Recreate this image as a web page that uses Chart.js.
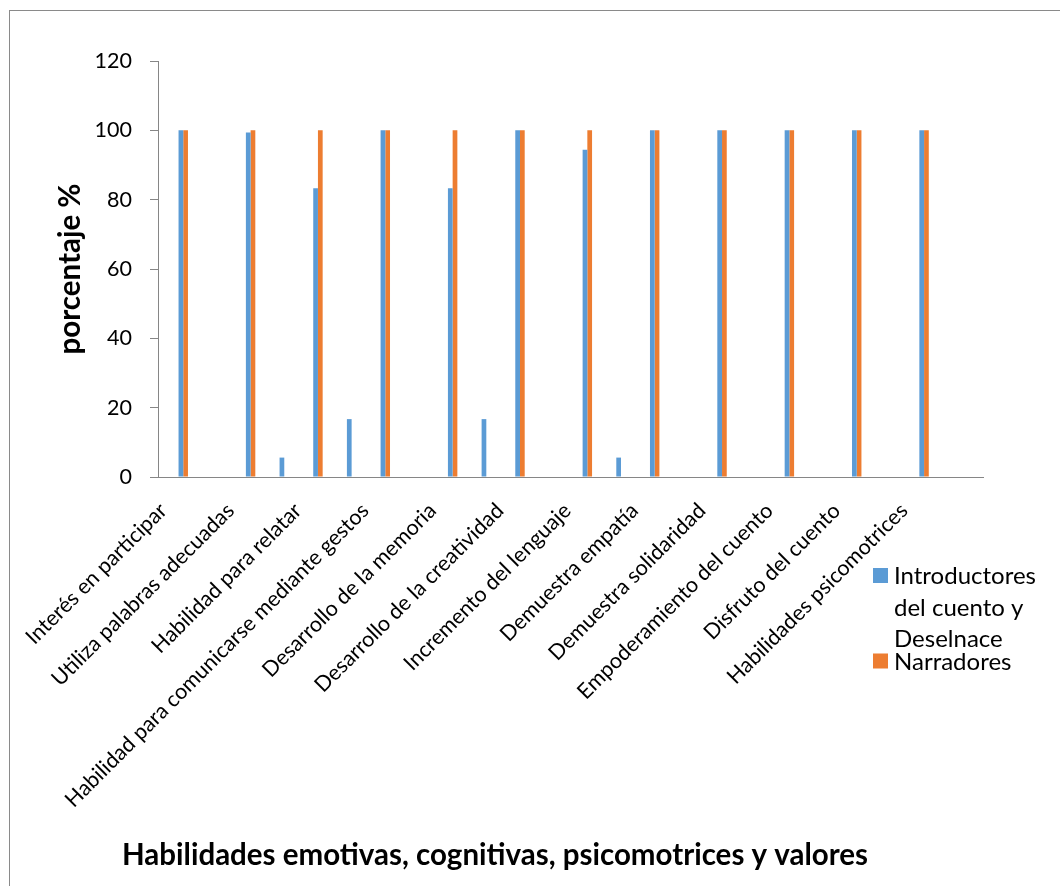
<!DOCTYPE html>
<html>
<head>
<meta charset="utf-8">
<script src="https://cdn.jsdelivr.net/npm/chart.js@4.4.1/dist/chart.umd.min.js"></script>
<style>
    html, body { margin: 0; padding: 0; background: #fff; }
    #wrap { width: 1060px; height: 886px; }
</style>
</head>
<body>
<div id="wrap"><canvas id="mainChart" width="1060" height="886"></canvas></div>
<script>
// categorias (Excel muestra solo una etiqueta de cada dos)
const categories = [
    'Interés en participar', '',
    'Utiliza palabras adecuadas', '',
    'Habilidad para relatar', '',
    'Habilidad para comunicarse mediante gestos', '',
    'Desarrollo de la memoria', '',
    'Desarrollo de la creatividad', '',
    'Incremento del lenguaje', '',
    'Demuestra empatía', '',
    'Demuestra solidaridad', '',
    'Empoderamiento del cuento', '',
    'Disfruto del cuento', '',
    'Habilidades psicomotrices', ''
];

const introductores = [100, null, 99.4, 5.6, 83.3, 16.7, 100, null, 83.3, 16.7, 100, null,
                       94.4, 5.6, 100, null, 100, null, 100, null, 100, null, 100, null];
const narradores    = [100, null, 100, null, 100, null, 100, null, 100, null, 100, null,
                       100, null, 100, null, 100, null, 100, null, 100, null, 100, null];

const yTicks = [0, 20, 40, 60, 80, 100, 120];

const seriesNames = ['Introductores del cuento y Deselnace', 'Narradores'];
const xTitle = 'Habilidades emotivas, cognitivas, psicomotrices y valores';
const yTitle = 'porcentaje %';

const FONT = 'Lato';

// marco del grafico
const framePlugin = {
    id: 'frame',
    beforeDraw(chart) {
        const ctx = chart.ctx;
        ctx.save();
        ctx.fillStyle = '#fff';
        ctx.fillRect(0, 0, chart.width, chart.height);
        ctx.strokeStyle = '#8a8a8a';
        ctx.lineWidth = 1;
        ctx.strokeRect(9.5, 10.5, 1200, 1000);
        ctx.restore();
    }
};

// leyenda a la derecha con texto partido en lineas
function wrapText(ctx, text, maxWidth) {
    const words = text.split(' ');
    const lines = [];
    let line = '';
    words.forEach(w => {
        const test = line ? line + ' ' + w : w;
        if (ctx.measureText(test).width > maxWidth && line) {
            lines.push(line);
            line = w;
        } else {
            line = test;
        }
    });
    if (line) lines.push(line);
    return lines;
}

const legendPlugin = {
    id: 'sideLegend',
    afterDraw(chart) {
        const ctx = chart.ctx;
        ctx.save();
        ctx.font = '24px ' + FONT;
        ctx.textBaseline = 'alphabetic';
        let y = 568;
        chart.data.datasets.forEach(ds => {
            const lines = wrapText(ctx, ds.label, 150);
            ctx.fillStyle = ds.backgroundColor;
            ctx.fillRect(873, y, 15, 15);
            ctx.fillStyle = '#000';
            lines.forEach((ln, j) => ctx.fillText(ln, 894, y + 16 + j * 31.5));
            y += lines.length * 31.5 - 9;
        });
        ctx.restore();
    }
};

// titulo del eje x (no centrado sobre el area del grafico)
const xTitlePlugin = {
    id: 'xTitle',
    afterDraw(chart) {
        const ctx = chart.ctx;
        ctx.save();
        ctx.font = 'bold 29.5px ' + FONT;
        ctx.fillStyle = '#000';
        ctx.textAlign = 'center';
        ctx.textBaseline = 'alphabetic';
        ctx.fillText(xTitle, 495, 865);
        ctx.restore();
    }
};

const labelIdx = categories.map((c, i) => i).filter(i => categories[i] !== '');

function buildChart() {
    const ctx = document.getElementById('mainChart').getContext('2d');
    new Chart(ctx, {
        type: 'bar',
        data: {
            datasets: [{
                label: seriesNames[0],
                data: introductores.map((v, i) => ({ x: i, y: v })),
                backgroundColor: '#5B9BD5',
                borderWidth: 0,
                categoryPercentage: 0.28,
                barPercentage: 1
            }, {
                label: seriesNames[1],
                data: narradores.map((v, i) => ({ x: i, y: v })),
                backgroundColor: '#ED7D31',
                borderWidth: 0,
                categoryPercentage: 0.28,
                barPercentage: 1
            }]
        },
        options: {
            responsive: false,
            animation: false,
            devicePixelRatio: 1,
            layout: { padding: { left: 50, top: 61, right: 77, bottom: 0 } },
            plugins: {
                legend: { display: false },
                tooltip: { enabled: false }
            },
            scales: {
                x: {
                    type: 'linear',
                    offset: false,
                    min: -0.75,
                    max: 23.75,
                    afterBuildTicks: s => { s.ticks = labelIdx.map(v => ({ value: v })); },
                    afterFit: s => { s.height = 886 - 477; },
                    grid: { display: false },
                    border: { display: true, color: '#868686', width: 1 },
                    ticks: {
                        autoSkip: false,
                        minRotation: 45,
                        maxRotation: 45,
                        padding: 13,
                        labelOffset: -20,
                        color: '#000',
                        font: { family: FONT, size: 21.5 },
                        callback: v => categories[v]
                    }
                },
                y: {
                    min: 0,
                    max: 120,
                    afterBuildTicks: s => { s.ticks = yTicks.map(v => ({ value: v })); },
                    afterFit: s => { s.width = 158 - 50; },
                    grid: { drawOnChartArea: false, tickLength: 8, color: '#868686' },
                    border: { color: '#868686', width: 1 },
                    ticks: {
                        padding: 18,
                        color: '#000',
                        font: { family: FONT, size: 21.5 }
                    },
                    title: {
                        display: true,
                        text: yTitle,
                        color: '#000',
                        padding: 3,
                        font: { family: FONT, size: 29.5, weight: 'bold' }
                    }
                }
            }
        },
        plugins: [framePlugin, legendPlugin, xTitlePlugin]
    });
}

document.addEventListener('DOMContentLoaded', function() {
    const loads = [document.fonts.load('20px ' + FONT), document.fonts.load('bold 20px ' + FONT)];
    Promise.all(loads).then(buildChart, buildChart);
});
</script>
</body>
</html>
